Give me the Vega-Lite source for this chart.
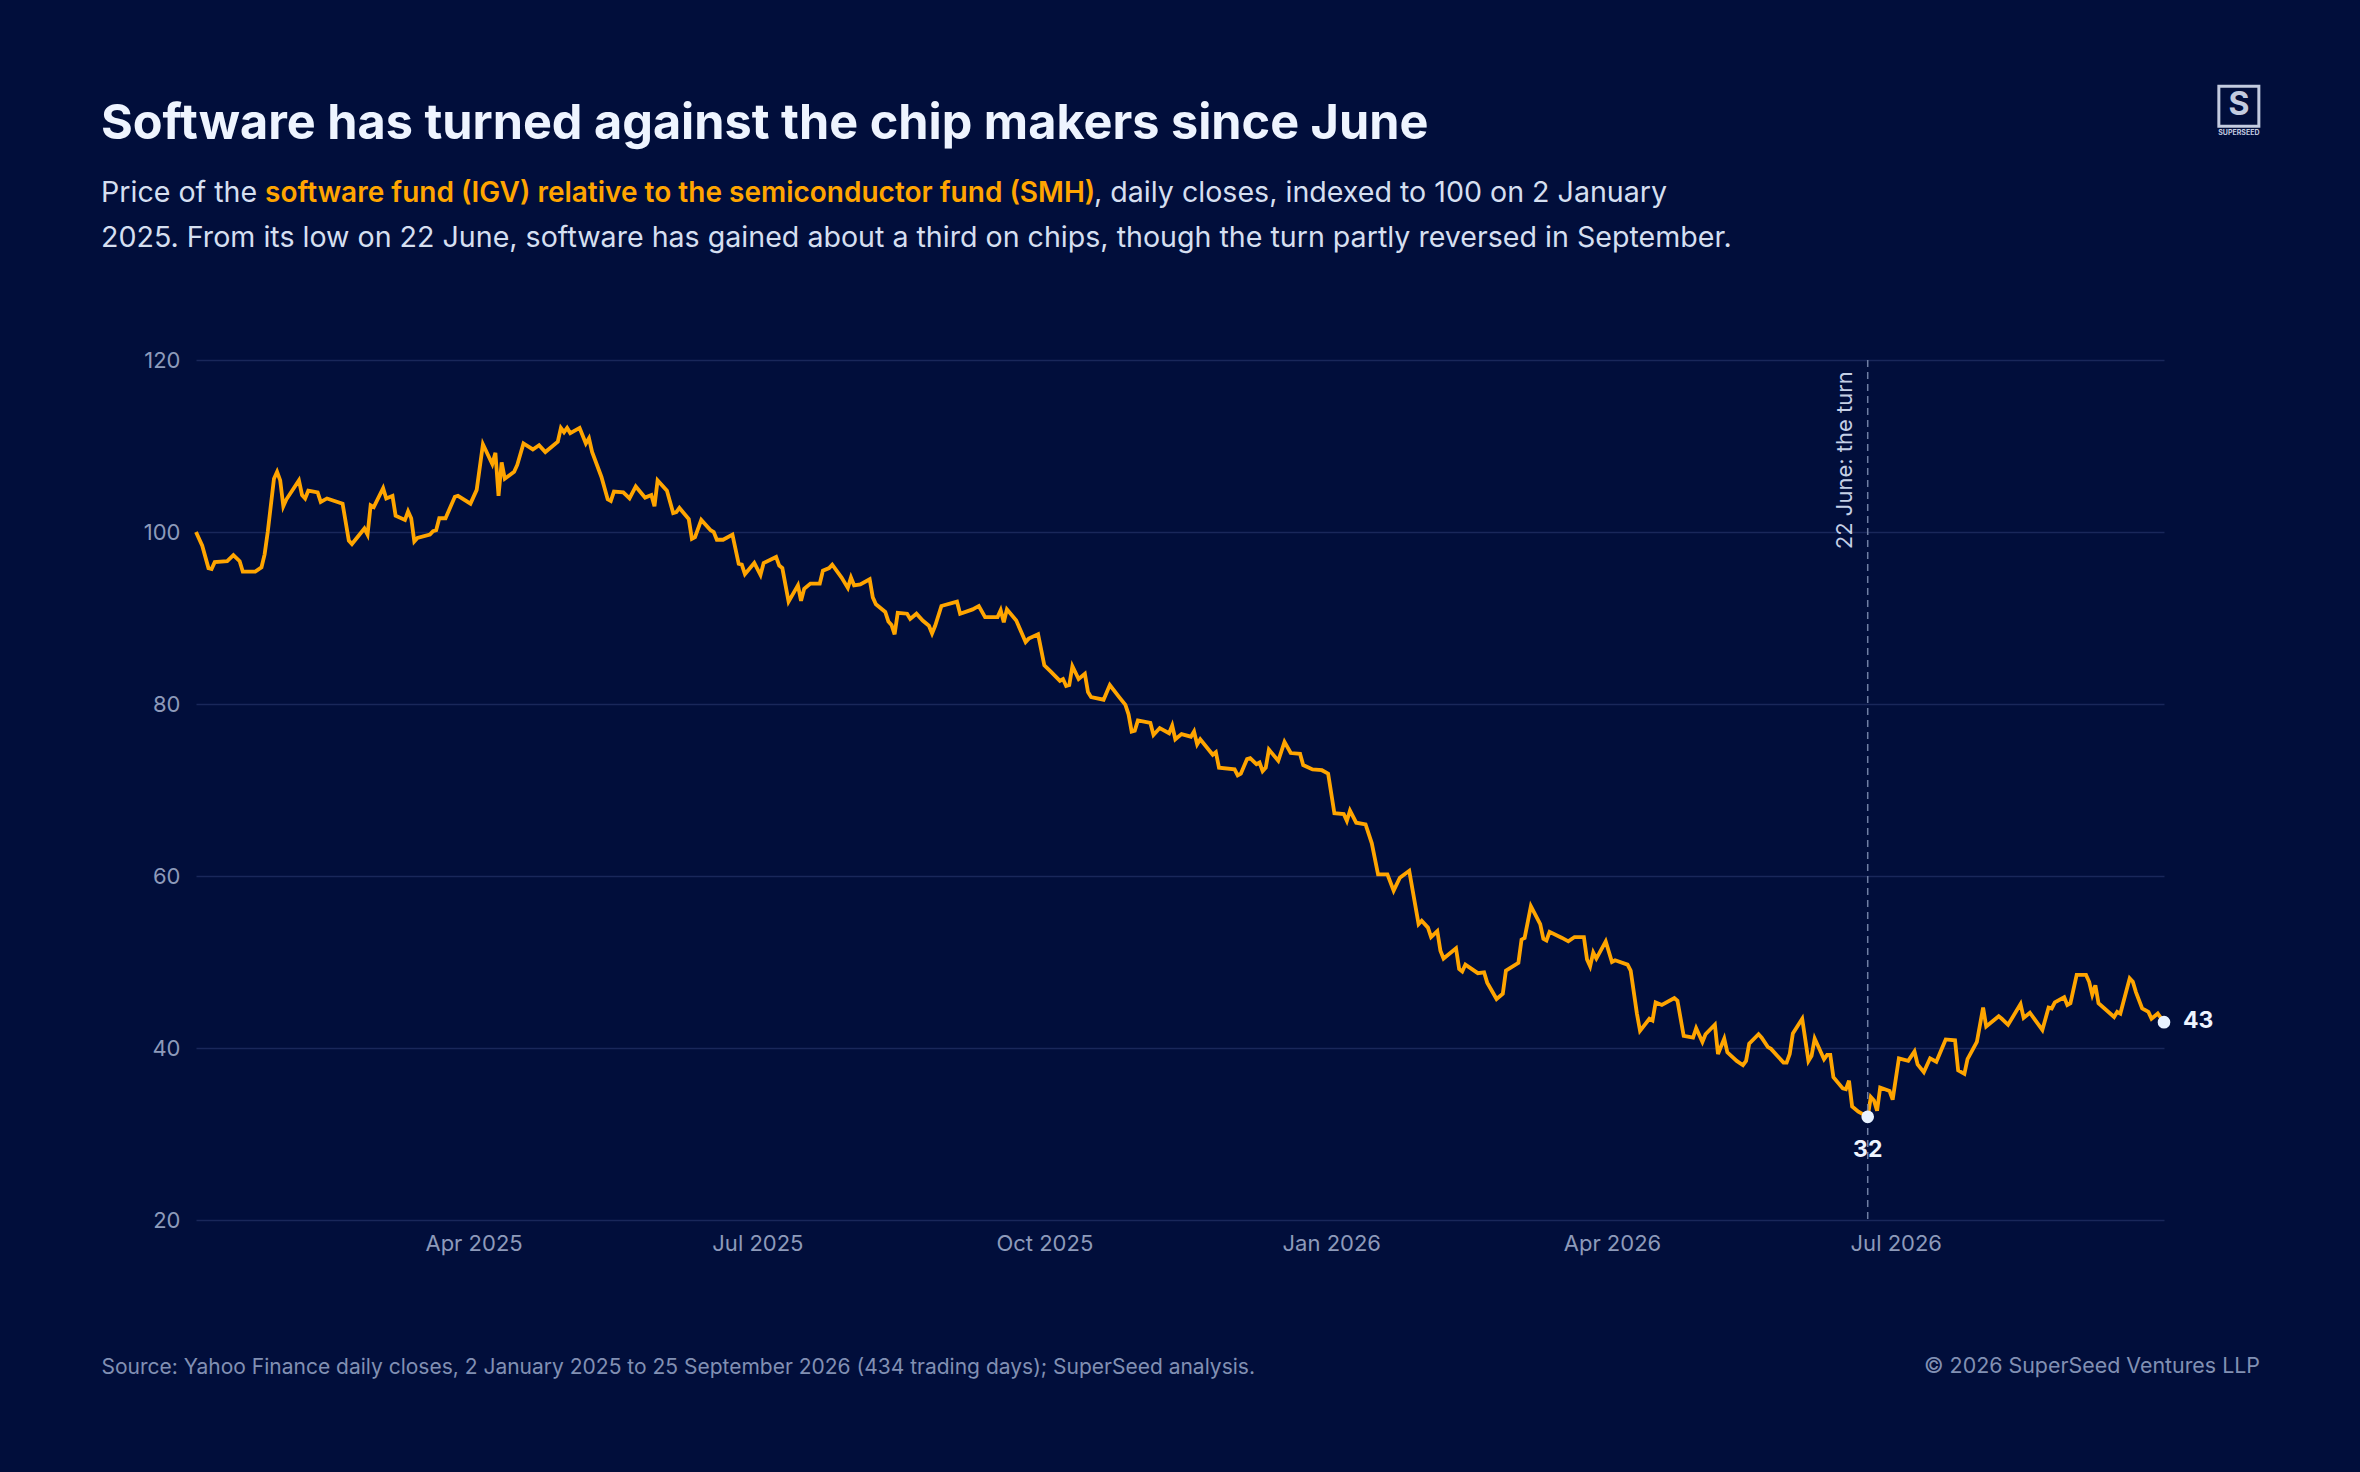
{
  "$schema": "https://vega.github.io/schema/vega-lite/v6.json",
  "width": 1968,
  "height": 860,
  "autosize": {"type": "none"},
  "padding": {"left": 196, "top": 360, "right": 196, "bottom": 252},
  "background": "#010e3b",
  "config": {
    "font": "Inter",
    "view": {"stroke": null},
    "text": {"font": "Inter"}
  },
  "datasets": {
    "series": [
      {"d":"2025-01-02","v":100},{"d":"2025-01-04","v":98.4},{"d":"2025-01-06","v":95.8},{"d":"2025-01-07","v":95.7},{"d":"2025-01-08","v":96.5},{"d":"2025-01-12","v":96.6},{"d":"2025-01-14","v":97.3},{"d":"2025-01-16","v":96.6},{"d":"2025-01-17","v":95.4},{"d":"2025-01-21","v":95.4},{"d":"2025-01-23","v":95.9},{"d":"2025-01-24","v":97.4},{"d":"2025-01-25","v":100},{"d":"2025-01-27","v":106.2},{"d":"2025-01-28","v":107},{"d":"2025-01-29","v":106},{"d":"2025-01-30","v":103},{"d":"2025-01-31","v":103.8},
      {"d":"2025-02-04","v":106},{"d":"2025-02-05","v":104.3},{"d":"2025-02-06","v":103.9},{"d":"2025-02-07","v":104.8},{"d":"2025-02-10","v":104.6},{"d":"2025-02-11","v":103.5},{"d":"2025-02-13","v":103.9},{"d":"2025-02-18","v":103.3},{"d":"2025-02-20","v":99},{"d":"2025-02-21","v":98.6},{"d":"2025-02-25","v":100.4},{"d":"2025-02-26","v":99.7},{"d":"2025-02-27","v":103.1},{"d":"2025-02-28","v":102.9},
      {"d":"2025-03-03","v":105.1},{"d":"2025-03-04","v":103.9},{"d":"2025-03-06","v":104.2},{"d":"2025-03-07","v":101.9},{"d":"2025-03-10","v":101.4},{"d":"2025-03-11","v":102.4},{"d":"2025-03-12","v":101.6},{"d":"2025-03-13","v":98.9},{"d":"2025-03-14","v":99.3},{"d":"2025-03-18","v":99.7},{"d":"2025-03-19","v":100.1},{"d":"2025-03-20","v":100.2},{"d":"2025-03-21","v":101.6},{"d":"2025-03-23","v":101.6},{"d":"2025-03-26","v":104.1},{"d":"2025-03-27","v":104.2},{"d":"2025-03-31","v":103.3},
      {"d":"2025-04-02","v":104.9},{"d":"2025-04-04","v":110.2},{"d":"2025-04-07","v":107.9},{"d":"2025-04-08","v":109.2},{"d":"2025-04-09","v":104.2},{"d":"2025-04-10","v":108.1},{"d":"2025-04-11","v":106.2},{"d":"2025-04-14","v":107},{"d":"2025-04-15","v":107.8},{"d":"2025-04-17","v":110.3},{"d":"2025-04-20","v":109.6},{"d":"2025-04-22","v":110.1},{"d":"2025-04-24","v":109.3},{"d":"2025-04-28","v":110.5},{"d":"2025-04-29","v":112.1},{"d":"2025-04-30","v":111.6},
      {"d":"2025-05-01","v":112.1},{"d":"2025-05-02","v":111.5},{"d":"2025-05-05","v":112.1},{"d":"2025-05-07","v":110.3},{"d":"2025-05-08","v":110.9},{"d":"2025-05-09","v":109.3},{"d":"2025-05-12","v":106.4},{"d":"2025-05-14","v":103.8},{"d":"2025-05-15","v":103.6},{"d":"2025-05-16","v":104.7},{"d":"2025-05-19","v":104.6},{"d":"2025-05-21","v":103.9},{"d":"2025-05-23","v":105.3},{"d":"2025-05-26","v":104},{"d":"2025-05-28","v":104.3},{"d":"2025-05-29","v":103},{"d":"2025-05-30","v":106},
      {"d":"2025-06-02","v":104.8},{"d":"2025-06-04","v":102.2},{"d":"2025-06-05","v":102.3},{"d":"2025-06-06","v":102.8},{"d":"2025-06-09","v":101.5},{"d":"2025-06-10","v":99.2},{"d":"2025-06-11","v":99.4},{"d":"2025-06-13","v":101.4},{"d":"2025-06-16","v":100.2},{"d":"2025-06-17","v":100},{"d":"2025-06-18","v":99.1},{"d":"2025-06-20","v":99.1},{"d":"2025-06-23","v":99.7},{"d":"2025-06-25","v":96.3},{"d":"2025-06-26","v":96.2},{"d":"2025-06-27","v":95.1},{"d":"2025-06-30","v":96.4},
      {"d":"2025-07-02","v":95},{"d":"2025-07-03","v":96.4},{"d":"2025-07-07","v":97.1},{"d":"2025-07-08","v":96.1},{"d":"2025-07-09","v":95.8},{"d":"2025-07-11","v":91.9},{"d":"2025-07-14","v":93.8},{"d":"2025-07-15","v":92},{"d":"2025-07-16","v":93.4},{"d":"2025-07-18","v":94},{"d":"2025-07-21","v":94},{"d":"2025-07-22","v":95.5},{"d":"2025-07-24","v":95.8},{"d":"2025-07-25","v":96.2},{"d":"2025-07-28","v":94.7},{"d":"2025-07-30","v":93.5},{"d":"2025-07-31","v":94.7},
      {"d":"2025-08-01","v":93.8},{"d":"2025-08-03","v":93.9},{"d":"2025-08-06","v":94.5},{"d":"2025-08-07","v":92.4},{"d":"2025-08-08","v":91.6},{"d":"2025-08-11","v":90.7},{"d":"2025-08-12","v":89.6},{"d":"2025-08-13","v":89.2},{"d":"2025-08-14","v":88.1},{"d":"2025-08-15","v":90.6},{"d":"2025-08-18","v":90.5},{"d":"2025-08-19","v":89.9},{"d":"2025-08-21","v":90.5},{"d":"2025-08-23","v":89.7},{"d":"2025-08-25","v":89.1},{"d":"2025-08-26","v":88.2},{"d":"2025-08-27","v":89.1},{"d":"2025-08-29","v":91.4},
      {"d":"2025-09-03","v":91.9},{"d":"2025-09-04","v":90.5},{"d":"2025-09-08","v":91},{"d":"2025-09-10","v":91.4},{"d":"2025-09-12","v":90.1},{"d":"2025-09-16","v":90.1},{"d":"2025-09-17","v":90.9},{"d":"2025-09-18","v":89.5},{"d":"2025-09-19","v":91},{"d":"2025-09-22","v":89.7},{"d":"2025-09-25","v":87.2},{"d":"2025-09-26","v":87.6},{"d":"2025-09-29","v":88.1},
      {"d":"2025-10-01","v":84.5},{"d":"2025-10-03","v":83.8},{"d":"2025-10-06","v":82.7},{"d":"2025-10-07","v":82.9},{"d":"2025-10-08","v":82.1},{"d":"2025-10-09","v":82.2},{"d":"2025-10-10","v":84.4},{"d":"2025-10-12","v":82.9},{"d":"2025-10-14","v":83.5},{"d":"2025-10-15","v":81.4},{"d":"2025-10-16","v":80.8},{"d":"2025-10-20","v":80.5},{"d":"2025-10-22","v":82.2},{"d":"2025-10-25","v":80.8},{"d":"2025-10-27","v":79.9},{"d":"2025-10-28","v":78.8},{"d":"2025-10-29","v":76.8},{"d":"2025-10-30","v":76.9},{"d":"2025-10-31","v":78.1},
      {"d":"2025-11-04","v":77.8},{"d":"2025-11-05","v":76.4},{"d":"2025-11-07","v":77.2},{"d":"2025-11-10","v":76.6},{"d":"2025-11-11","v":77.5},{"d":"2025-11-12","v":75.9},{"d":"2025-11-14","v":76.5},{"d":"2025-11-17","v":76.2},{"d":"2025-11-18","v":76.8},{"d":"2025-11-19","v":75.3},{"d":"2025-11-20","v":75.9},{"d":"2025-11-24","v":74.1},{"d":"2025-11-25","v":74.4},{"d":"2025-11-26","v":72.6},
      {"d":"2025-12-01","v":72.4},{"d":"2025-12-02","v":71.7},{"d":"2025-12-03","v":71.9},{"d":"2025-12-05","v":73.6},{"d":"2025-12-06","v":73.7},{"d":"2025-12-08","v":73},{"d":"2025-12-09","v":73.2},{"d":"2025-12-10","v":72.2},{"d":"2025-12-11","v":72.6},{"d":"2025-12-12","v":74.7},{"d":"2025-12-15","v":73.4},{"d":"2025-12-17","v":75.6},{"d":"2025-12-19","v":74.3},{"d":"2025-12-22","v":74.2},{"d":"2025-12-23","v":72.9},{"d":"2025-12-26","v":72.4},{"d":"2025-12-29","v":72.3},{"d":"2025-12-31","v":71.9},
      {"d":"2026-01-02","v":67.3},{"d":"2026-01-05","v":67.2},{"d":"2026-01-06","v":66.4},{"d":"2026-01-07","v":67.6},{"d":"2026-01-09","v":66.2},{"d":"2026-01-12","v":66},{"d":"2026-01-14","v":63.8},{"d":"2026-01-16","v":60.2},{"d":"2026-01-19","v":60.2},{"d":"2026-01-21","v":58.3},{"d":"2026-01-23","v":59.8},{"d":"2026-01-26","v":60.6},{"d":"2026-01-29","v":54.4},{"d":"2026-01-30","v":54.8},
      {"d":"2026-02-01","v":54},{"d":"2026-02-02","v":52.9},{"d":"2026-02-04","v":53.6},{"d":"2026-02-05","v":51.3},{"d":"2026-02-06","v":50.4},{"d":"2026-02-10","v":51.6},{"d":"2026-02-11","v":49.2},{"d":"2026-02-12","v":48.9},{"d":"2026-02-13","v":49.7},{"d":"2026-02-17","v":48.7},{"d":"2026-02-19","v":48.8},{"d":"2026-02-20","v":47.6},{"d":"2026-02-23","v":45.7},{"d":"2026-02-25","v":46.3},{"d":"2026-02-26","v":49},
      {"d":"2026-03-02","v":49.9},{"d":"2026-03-03","v":52.6},{"d":"2026-03-04","v":52.8},{"d":"2026-03-06","v":56.5},{"d":"2026-03-09","v":54.4},{"d":"2026-03-10","v":52.7},{"d":"2026-03-11","v":52.5},{"d":"2026-03-12","v":53.5},{"d":"2026-03-16","v":52.8},{"d":"2026-03-18","v":52.4},{"d":"2026-03-20","v":52.9},{"d":"2026-03-23","v":52.9},{"d":"2026-03-24","v":50.3},{"d":"2026-03-25","v":49.5},{"d":"2026-03-26","v":51.1},{"d":"2026-03-27","v":50.4},{"d":"2026-03-30","v":52.4},
      {"d":"2026-04-01","v":50},{"d":"2026-04-02","v":50.2},{"d":"2026-04-06","v":49.7},{"d":"2026-04-07","v":49},{"d":"2026-04-09","v":44},{"d":"2026-04-10","v":42},{"d":"2026-04-13","v":43.4},{"d":"2026-04-14","v":43.2},{"d":"2026-04-15","v":45.3},{"d":"2026-04-17","v":45},{"d":"2026-04-21","v":45.8},{"d":"2026-04-22","v":45.5},{"d":"2026-04-24","v":41.4},{"d":"2026-04-27","v":41.2},{"d":"2026-04-28","v":42.3},{"d":"2026-04-30","v":40.7},
      {"d":"2026-05-01","v":41.6},{"d":"2026-05-04","v":42.7},{"d":"2026-05-05","v":39.3},{"d":"2026-05-07","v":41.1},{"d":"2026-05-08","v":39.5},{"d":"2026-05-11","v":38.5},{"d":"2026-05-13","v":38},{"d":"2026-05-14","v":38.5},{"d":"2026-05-15","v":40.5},{"d":"2026-05-18","v":41.6},{"d":"2026-05-19","v":41.2},{"d":"2026-05-21","v":40.1},{"d":"2026-05-22","v":39.9},{"d":"2026-05-26","v":38.3},{"d":"2026-05-27","v":38.3},{"d":"2026-05-28","v":39.3},{"d":"2026-05-29","v":41.7},
      {"d":"2026-06-01","v":43.4},{"d":"2026-06-03","v":38.5},{"d":"2026-06-04","v":39.1},{"d":"2026-06-05","v":41.1},{"d":"2026-06-08","v":38.7},{"d":"2026-06-09","v":39.2},{"d":"2026-06-10","v":39.2},{"d":"2026-06-11","v":36.6},{"d":"2026-06-14","v":35.3},{"d":"2026-06-15","v":35.2},{"d":"2026-06-16","v":36.2},{"d":"2026-06-17","v":33.2},{"d":"2026-06-19","v":32.6},{"d":"2026-06-22","v":32},{"d":"2026-06-23","v":34.3},{"d":"2026-06-24","v":33.9},{"d":"2026-06-25","v":32.7},{"d":"2026-06-26","v":35.4},{"d":"2026-06-29","v":35},{"d":"2026-06-30","v":34},
      {"d":"2026-07-02","v":38.8},{"d":"2026-07-05","v":38.5},{"d":"2026-07-07","v":39.6},{"d":"2026-07-08","v":38.1},{"d":"2026-07-10","v":37.2},{"d":"2026-07-12","v":38.8},{"d":"2026-07-14","v":38.4},{"d":"2026-07-17","v":41},{"d":"2026-07-20","v":40.9},{"d":"2026-07-21","v":37.4},{"d":"2026-07-23","v":37},{"d":"2026-07-24","v":38.7},{"d":"2026-07-27","v":40.7},{"d":"2026-07-29","v":44.7},{"d":"2026-07-30","v":42.5},
      {"d":"2026-08-03","v":43.7},{"d":"2026-08-04","v":43.4},{"d":"2026-08-06","v":42.7},{"d":"2026-08-10","v":45.1},{"d":"2026-08-11","v":43.5},{"d":"2026-08-13","v":44.1},{"d":"2026-08-17","v":42.1},{"d":"2026-08-19","v":44.7},{"d":"2026-08-20","v":44.6},{"d":"2026-08-21","v":45.3},{"d":"2026-08-24","v":45.9},{"d":"2026-08-25","v":45},{"d":"2026-08-26","v":45.2},{"d":"2026-08-28","v":48.5},{"d":"2026-08-31","v":48.5},
      {"d":"2026-09-01","v":47.7},{"d":"2026-09-02","v":46.2},{"d":"2026-09-03","v":47.3},{"d":"2026-09-04","v":45.2},{"d":"2026-09-09","v":43.6},{"d":"2026-09-10","v":44.2},{"d":"2026-09-11","v":44},{"d":"2026-09-14","v":48.1},{"d":"2026-09-15","v":47.7},{"d":"2026-09-16","v":46.5},{"d":"2026-09-18","v":44.6},{"d":"2026-09-20","v":44.2},{"d":"2026-09-21","v":43.4},{"d":"2026-09-23","v":44},{"d":"2026-09-25","v":43}
    ],
    "callouts": [
      {"d":"2026-06-22","v":32,"lab":"32","kind":"low"},
      {"d":"2026-09-25","v":43,"lab":"43","kind":"last"}
    ]
  },
  "layer": [
    {
      "data": {"name": "series"},
      "mark": {"type": "line", "stroke": "#ffa500", "strokeWidth": 3.8},
      "encoding": {
        "x": {
          "field": "d", "type": "temporal",
          "scale": {"type": "utc", "nice": false,
            "domain": [{"year": 2025, "month": 1, "date": 2, "utc": true}, {"year": 2026, "month": 9, "date": 25, "utc": true}]},
          "axis": {
            "format": "%b %Y",
            "tickCount": {"interval": "month", "step": 3},
            "grid": false, "ticks": false, "domain": false,
            "labelFont": "Inter", "labelFontSize": 22, "labelColor": "#8d9aba", "labelPadding": 13,
            "title": "Source: Yahoo Finance daily closes, 2 January 2025 to 25 September 2026 (434 trading days); SuperSeed analysis.",
            "titleFont": "Inter", "titleFontSize": 21, "titleFontWeight": "normal", "titleColor": "#8190b3",
            "titleAnchor": "start", "titleAlign": "left", "titleBaseline": "alphabetic",
            "titleX": -95, "titleY": 153
          }
        },
        "y": {
          "field": "v", "type": "quantitative",
          "scale": {"domain": [20, 120], "nice": false, "zero": false},
          "axis": {
            "values": [20, 40, 60, 80, 100, 120],
            "grid": true, "gridColor": "#19275a", "gridWidth": 1.5,
            "ticks": false, "domain": false,
            "labelFont": "Inter", "labelFontSize": 22, "labelColor": "#8d9aba", "labelPadding": 16,
            "title": null
          }
        }
      }
    },
    {
      "data": {"values": [{}]},
      "mark": {"type": "rule", "stroke": "#6f7ea3", "strokeWidth": 1.5, "strokeDash": [7, 5]},
      "encoding": {
        "x": {"datum": {"year": 2026, "month": 6, "date": 22, "utc": true}, "type": "temporal"}
      }
    },
    {
      "data": {"values": [{}]},
      "mark": {"type": "text", "text": "22 June: the turn", "angle": 270, "align": "right", "baseline": "alphabetic", "font": "Inter", "fontSize": 22, "color": "#c5d0e6"},
      "encoding": {
        "x": {"datum": {"year": 2026, "month": 6, "date": 17, "utc": true}, "type": "temporal"},
        "y": {"datum": 118.7, "type": "quantitative"}
      }
    },
    {
      "data": {"name": "callouts"},
      "mark": {"type": "point", "filled": true, "color": "#e8f2ff", "opacity": 1, "size": 160},
      "encoding": {
        "x": {"field": "d", "type": "temporal"},
        "y": {"field": "v", "type": "quantitative"}
      }
    },
    {
      "data": {"name": "callouts"},
      "transform": [{"filter": "datum.kind == 'low'"}],
      "mark": {"type": "text", "align": "center", "baseline": "alphabetic", "dy": 40, "font": "Inter", "fontSize": 23, "fontWeight": 700, "color": "#eef4ff"},
      "encoding": {
        "x": {"field": "d", "type": "temporal"},
        "y": {"field": "v", "type": "quantitative"},
        "text": {"field": "lab"}
      }
    },
    {
      "data": {"name": "callouts"},
      "transform": [{"filter": "datum.kind == 'last'"}],
      "mark": {"type": "text", "align": "left", "baseline": "middle", "dx": 19, "dy": -1, "font": "Inter", "fontSize": 23, "fontWeight": 700, "color": "#eef4ff"},
      "encoding": {
        "x": {"field": "d", "type": "temporal"},
        "y": {"field": "v", "type": "quantitative"},
        "text": {"field": "lab"}
      }
    },
    {
      "data": {"values": [{}]},
      "mark": {"type": "text", "text": "Software has turned against the chip makers since June", "align": "left", "baseline": "alphabetic", "dx": -95, "font": "Inter", "fontSize": 48.6, "fontWeight": 700, "color": "#eef4ff"},
      "encoding": {
        "x": {"datum": {"year": 2025, "month": 1, "date": 2, "utc": true}, "type": "temporal"},
        "y": {"datum": 145.7, "type": "quantitative"}
      }
    },
    {
      "data": {"values": [{}]},
      "mark": {"type": "text", "text": "Price of the ", "align": "left", "baseline": "alphabetic", "dx": -95, "font": "Inter", "fontSize": 28.6, "color": "#d5dff0"},
      "encoding": {
        "x": {"datum": {"year": 2025, "month": 1, "date": 2, "utc": true}, "type": "temporal"},
        "y": {"datum": 138.37, "type": "quantitative"}
      }
    },
    {
      "data": {"values": [{}]},
      "mark": {"type": "text", "text": "software fund (IGV) relative to the semiconductor fund (SMH)", "align": "left", "baseline": "alphabetic", "dx": 69, "font": "Inter", "fontSize": 28, "fontWeight": 600, "color": "#ffa500"},
      "encoding": {
        "x": {"datum": {"year": 2025, "month": 1, "date": 2, "utc": true}, "type": "temporal"},
        "y": {"datum": 138.37, "type": "quantitative"}
      }
    },
    {
      "data": {"values": [{}]},
      "mark": {"type": "text", "text": ", daily closes, indexed to 100 on 2 January", "align": "left", "baseline": "alphabetic", "dx": 898, "font": "Inter", "fontSize": 28.6, "color": "#d5dff0"},
      "encoding": {
        "x": {"datum": {"year": 2025, "month": 1, "date": 2, "utc": true}, "type": "temporal"},
        "y": {"datum": 138.37, "type": "quantitative"}
      }
    },
    {
      "data": {"values": [{}]},
      "mark": {"type": "text", "text": "2025. From its low on 22 June, software has gained about a third on chips, though the turn partly reversed in September.", "align": "left", "baseline": "alphabetic", "dx": -95, "font": "Inter", "fontSize": 28.6, "color": "#d5dff0"},
      "encoding": {
        "x": {"datum": {"year": 2025, "month": 1, "date": 2, "utc": true}, "type": "temporal"},
        "y": {"datum": 133.14, "type": "quantitative"}
      }
    },
    {
      "data": {"values": [{}]},
      "mark": {"type": "text", "text": "© 2026 SuperSeed Ventures LLP", "align": "right", "baseline": "alphabetic", "dx": 96, "font": "Inter", "fontSize": 21.4, "color": "#8190b3"},
      "encoding": {
        "x": {"datum": {"year": 2026, "month": 9, "date": 25, "utc": true}, "type": "temporal"},
        "y": {"datum": 2.2, "type": "quantitative"}
      }
    },
    {
      "data": {"values": [{}]},
      "mark": {"type": "point", "shape": "square", "filled": false, "stroke": "#c3cbe0", "strokeWidth": 3, "size": 1600, "opacity": 1},
      "encoding": {
        "x": {"datum": {"year": 2026, "month": 10, "date": 19, "utc": true}, "type": "temporal"},
        "y": {"datum": 149.5, "type": "quantitative"}
      }
    },
    {
      "data": {"values": [{}]},
      "mark": {"type": "text", "text": "S", "align": "center", "baseline": "middle", "font": "Inter", "fontSize": 32, "fontWeight": 700, "color": "#c3cbe0"},
      "encoding": {
        "x": {"datum": {"year": 2026, "month": 10, "date": 19, "utc": true}, "type": "temporal"},
        "y": {"datum": 149.6, "type": "quantitative"}
      }
    },
    {
      "data": {"values": [{}]},
      "mark": {"type": "text", "text": "SUPERSEED", "align": "center", "baseline": "middle", "font": "Inter", "fontSize": 7, "fontWeight": 700, "color": "#c3cbe0"},
      "encoding": {
        "x": {"datum": {"year": 2026, "month": 10, "date": 19, "utc": true}, "type": "temporal"},
        "y": {"datum": 146.4, "type": "quantitative"}
      }
    }
  ]
}
